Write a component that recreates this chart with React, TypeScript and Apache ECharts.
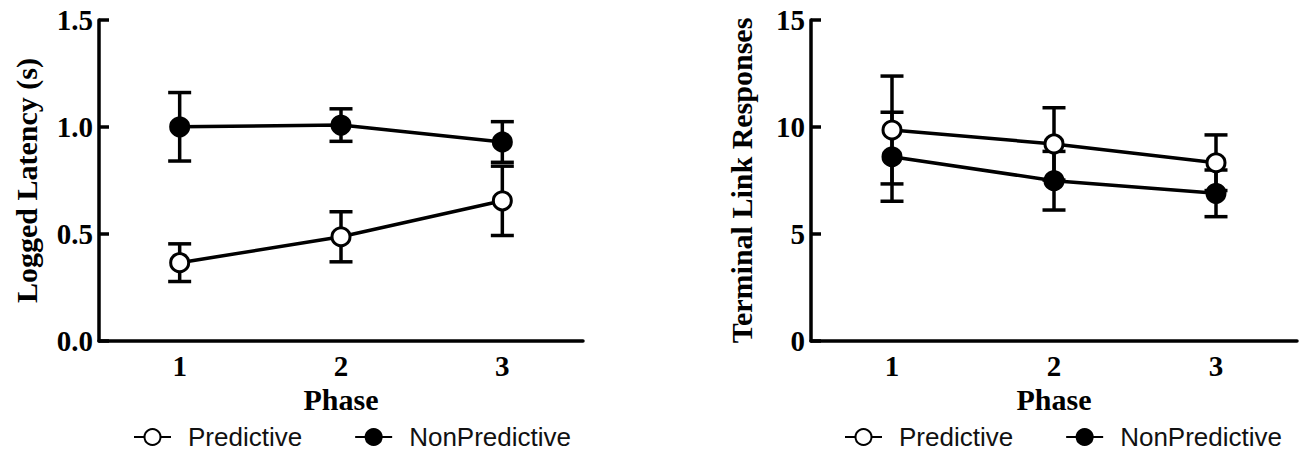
import React, { useEffect, useRef } from "react";
import * as echarts from "echarts";

const phases = ["1", "2", "3"];
const seriesNames = ["Predictive", "NonPredictive"];

const latencyPredictive = [0.366, 0.487, 0.655];
const latencyPredictiveErr = [0.088, 0.117, 0.162];
const latencyNonPredictive = [1.001, 1.009, 0.93];
const latencyNonPredictiveErr = [0.16, 0.076, 0.095];

const responsesPredictive = [9.86, 9.21, 8.33];
const responsesPredictiveErr = [2.52, 1.69, 1.3];
const responsesNonPredictive = [8.61, 7.49, 6.9];
const responsesNonPredictiveErr = [2.08, 1.37, 1.09];

const latencyAxis = { min: 0, max: 1.5, interval: 0.5, decimals: 1 };
const responsesAxis = { min: 0, max: 15, interval: 5, decimals: 0 };

const serif = "'Liberation Serif', 'Times New Roman', serif";
const sans = "'Liberation Sans', Arial, sans-serif";
const LW = 3.5;

function errData(means: number[], errs: number[]) {
  return means.map((m, i) => [i, m - errs[i], m + errs[i]]);
}

const errorRender = (params: any, api: any) => {
  const x = api.value(0);
  const lo = api.coord([x, api.value(1)]);
  const hi = api.coord([x, api.value(2)]);
  const hw = 11.5;
  const style = { stroke: "#000", lineWidth: LW };
  return {
    type: "group",
    children: [
      { type: "line", shape: { x1: hi[0], y1: hi[1], x2: lo[0], y2: lo[1] }, style },
      { type: "line", shape: { x1: hi[0] - hw, y1: hi[1], x2: hi[0] + hw, y2: hi[1] }, style },
      { type: "line", shape: { x1: lo[0] - hw, y1: lo[1], x2: lo[0] + hw, y2: lo[1] }, style },
    ],
  };
};

function xAxisFor(gridIndex: number) {
  return {
    type: "category",
    gridIndex,
    data: phases,
    boundaryGap: true,
    name: "Phase",
    nameLocation: "middle",
    nameGap: 40,
    nameTextStyle: { fontFamily: serif, fontWeight: "bold", fontSize: 30, color: "#000" },
    axisLine: { lineStyle: { color: "#000", width: LW } },
    axisTick: { inside: true, alignWithLabel: true, length: 10, lineStyle: { color: "#000", width: LW } },
    axisLabel: { fontFamily: serif, fontWeight: "bold", fontSize: 29, color: "#000", margin: 10 },
    splitLine: { show: false },
  };
}

function yAxisFor(gridIndex: number, ax: any, name: string, nameGap: number) {
  return {
    type: "value",
    gridIndex,
    min: ax.min,
    max: ax.max,
    interval: ax.interval,
    name,
    nameLocation: "middle",
    nameGap,
    nameTextStyle: { fontFamily: serif, fontWeight: "bold", fontSize: 30, color: "#000" },
    axisLine: { show: true, lineStyle: { color: "#000", width: LW } },
    axisTick: { show: true, inside: true, length: 10, lineStyle: { color: "#000", width: LW } },
    axisLabel: {
      fontFamily: serif,
      fontWeight: "bold",
      fontSize: 29,
      color: "#000",
      margin: 6,
      formatter: (v: number) => v.toFixed(ax.decimals),
    },
    splitLine: { show: false },
  };
}

function lineSeries(name: string, data: number[], idx: number, filled: boolean) {
  return {
    type: "line",
    name,
    xAxisIndex: idx,
    yAxisIndex: idx,
    data,
    symbol: "circle",
    symbolSize: 18,
    z: 5,
    lineStyle: { color: "#000", width: LW },
    itemStyle: { color: filled ? "#000" : "#fff", borderColor: "#000", borderWidth: 3 },
  };
}

function errSeries(means: number[], errs: number[], idx: number) {
  return {
    type: "custom",
    name: "err",
    xAxisIndex: idx,
    yAxisIndex: idx,
    data: errData(means, errs),
    encode: { x: 0, y: [1, 2] },
    renderItem: errorRender,
    z: 2,
    silent: true,
  };
}

function legendAt(left: number) {
  return {
    data: seriesNames,
    left,
    top: 423,
    padding: 0,
    orient: "horizontal",
    itemWidth: 37,
    itemHeight: 20,
    itemGap: 52,
    formatter: "{g|}{t|{name}}",
    textStyle: {
      fontFamily: sans,
      fontSize: 26,
      lineHeight: 28,
      color: "#111",
      rich: {
        g: { width: 12, lineHeight: 28 },
        t: { fontFamily: sans, fontSize: 26, lineHeight: 28, color: "#111" },
      },
    },
  };
}

export default function App() {
  const ref = useRef<HTMLDivElement>(null);
  useEffect(() => {
    if (!ref.current) return;
    const chart = echarts.init(ref.current, undefined, { renderer: "svg" });
    chart.setOption({
      animation: false,
      backgroundColor: "#fff",
      grid: [
        { left: 99, right: 720, top: 20, bottom: 112, containLabel: false },
        { left: 811, right: 6, top: 20, bottom: 112, containLabel: false },
      ],
      legend: [legendAt(133), legendAt(844)],
      xAxis: [xAxisFor(0), xAxisFor(1)],
      yAxis: [
        yAxisFor(0, latencyAxis, "Logged Latency (s)", 58),
        yAxisFor(1, responsesAxis, "Terminal Link Responses", 55),
      ],
      series: [
        errSeries(latencyPredictive, latencyPredictiveErr, 0),
        errSeries(latencyNonPredictive, latencyNonPredictiveErr, 0),
        lineSeries("Predictive", latencyPredictive, 0, false),
        lineSeries("NonPredictive", latencyNonPredictive, 0, true),
        errSeries(responsesPredictive, responsesPredictiveErr, 1),
        errSeries(responsesNonPredictive, responsesNonPredictiveErr, 1),
        lineSeries("Predictive", responsesPredictive, 1, false),
        lineSeries("NonPredictive", responsesNonPredictive, 1, true),
      ],
    });
    return () => chart.dispose();
  }, []);
  return (
    <div
      ref={ref}
      style={{ position: "fixed", left: 0, top: 0, width: 1303, height: 453, background: "#fff" }}
    />
  );
}
